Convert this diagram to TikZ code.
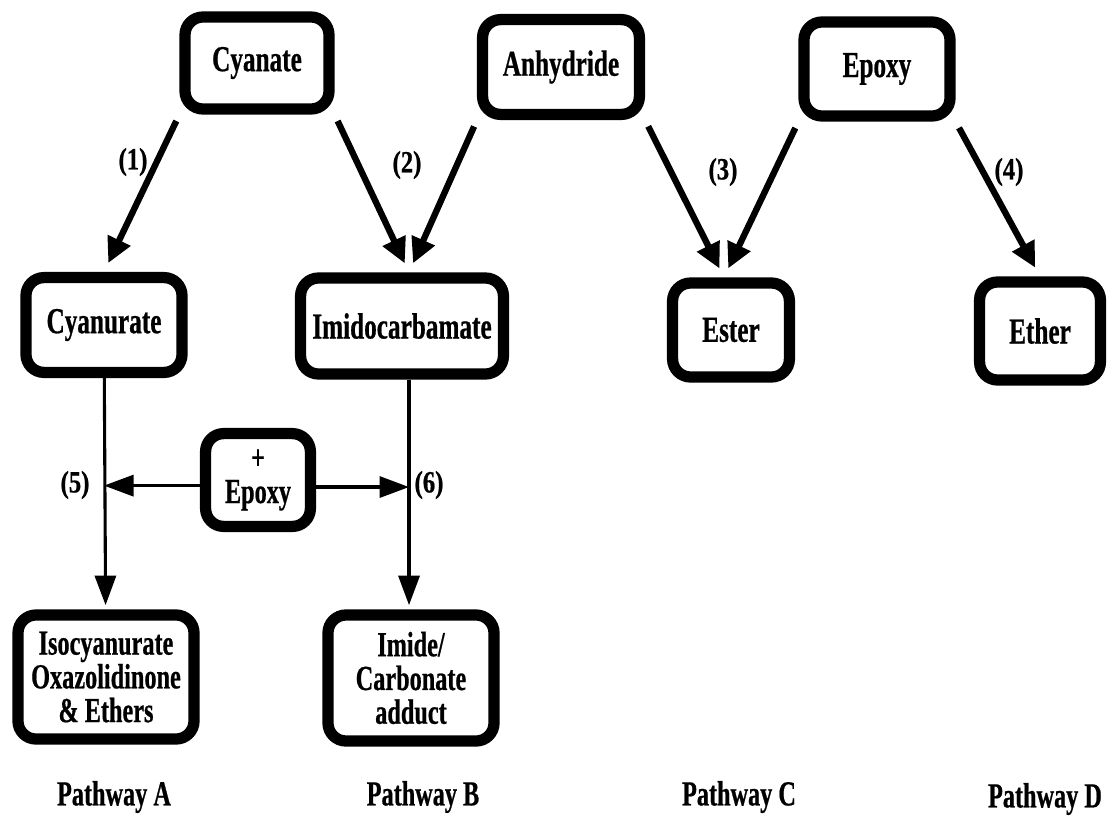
\documentclass[tikz,border=0pt]{standalone}
\usepackage{fontspec}
\setmainfont[FakeStretch=0.69,BoldFeatures={FakeBold=0.6}]{Liberation Serif}
\newfontfamily\wideserif[FakeStretch=0.8,BoldFeatures={FakeBold=0.6}]{Liberation Serif}
\usetikzlibrary{arrows.meta}

\begin{document}
\begin{tikzpicture}[x=0.025cm,y=-0.025cm,
  box/.style={draw,line width=8pt,rounded corners=0.45cm,align=center,inner sep=0pt,
    font=\bfseries\fontsize{26}{26}\selectfont},
  multi/.style={box,font=\bfseries\fontsize{25}{24}\selectfont},
  num/.style={font=\wideserif\bfseries\fontsize{22}{22}\selectfont},
  way/.style={font=\bfseries\fontsize{25}{25}\selectfont},
  react/.style={line width=4.5pt,-{Triangle[length=18pt,width=17pt]},shorten <=5pt,shorten >=7pt},
  add/.style={line width=2.2pt,-{Triangle[length=21pt,width=15pt]}}]
\useasboundingbox (0,0) rectangle (1107,818);
% starting materials
\node[box,minimum width=3.6cm,minimum height=2.3cm] (cyanate) at (257,63) {Cyanate};
\node[box,minimum width=3.92cm,minimum height=2.37cm] (anhydride) at (561,67) {Anhydride};
\node[box,minimum width=3.65cm,minimum height=2.35cm] (epoxy) at (877,69) {Epoxy};
% first products
\node[box,minimum width=3.9cm,minimum height=2.37cm] (cyanurate) at (104,325) {Cyanurate};
\node[box,minimum width=5.07cm,minimum height=2.4cm] (imido) at (402,326) {Imidocarbamate};
\node[box,minimum width=2.92cm,minimum height=2.35cm] (ester) at (731,330) {Ester};
\node[box,minimum width=3.02cm,minimum height=2.45cm] (ether) at (1040,331) {Ether};
% epoxy addition
\node[multi,minimum width=2.62cm,minimum height=2.32cm] (plus) at (258,480) {+\\Epoxy};
\node[multi,minimum width=4.4cm,minimum height=3.1cm] (iso) at (106,677) {Isocyanurate\\Oxazolidinone\\\& Ethers};
\node[multi,minimum width=4.15cm,minimum height=3.15cm] (imide) at (411,678) {Imide/\\Carbonate\\adduct};

\path[react]
  (cyanate.south west) edge (cyanurate.north)
  (cyanate.south east) edge ([xshift=5pt]imido.north)
  (anhydride.south west) edge ([xshift=5pt]imido.north)
  (anhydride.south east) edge ([xshift=-5pt]ester.north)
  (epoxy.south west) edge ([xshift=-5pt]ester.north)
  (epoxy.south east) edge (ether.north);

\coordinate (lineB) at ([xshift=5pt]imido.south);
\coordinate (hitA) at ([yshift=-4pt]plus.west -| cyanurate.south);
\coordinate (hitB) at ([yshift=-5pt]plus.east -| lineB);
\path[add,shorten >=3pt]
  (cyanurate) edge (iso)
  (lineB) edge (lineB |- imide.north);
\path[add]
  ([yshift=-4pt]plus.west) edge (hitA)
  ([yshift=-5pt]plus.east) edge (hitB);

\node[num] (n1) at (133,162) {(1)};
\node[num] (n2) at (407,165) {(2)};
\node[num] (n3) at (723,172) {(3)};
\node[num] (n4) at (1009,172) {(4)};
\node[num] (n5) at (75,485) {(5)};
\node[num] (n6) at (429,485) {(6)};

\node[way] (wa) at (114,797) {Pathway A};
\node[way] (wb) at (423,797) {Pathway B};
\node[way] (wc) at (739,797) {Pathway C};
\node[way] (wd) at (1045,799) {Pathway D};
\end{tikzpicture}
\end{document}
